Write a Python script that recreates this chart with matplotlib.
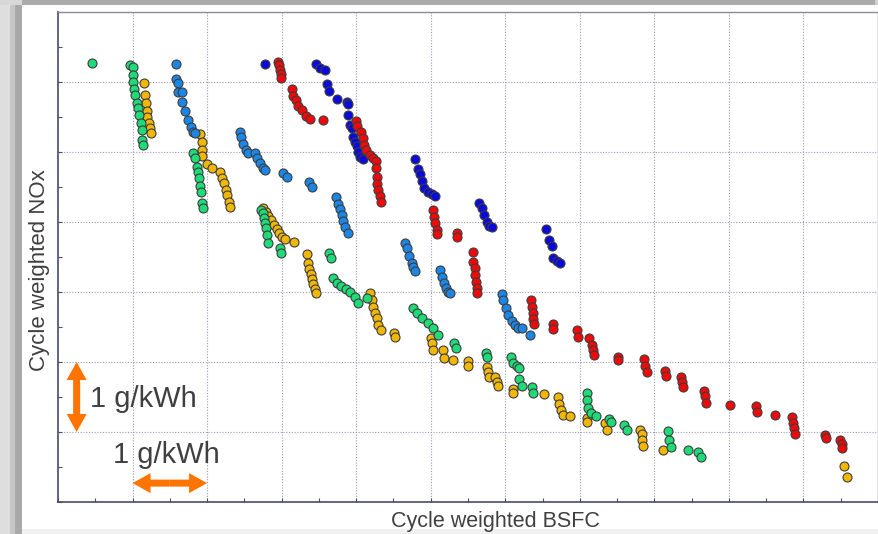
import matplotlib
matplotlib.use("Agg")
import matplotlib.pyplot as plt
from matplotlib.patches import Rectangle, FancyArrow

plt.rcParams['font.family'] = ['Liberation Sans', 'DejaVu Sans']

# ---- data (relative units, 1 grid step = 1 g/kWh) ----
green_x = [0.46, 0.97, 1.01, 1.01, 1.01, 1.02, 1.03, 1.06, 1.07, 1.09, 1.11, 1.13, 1.13, 1.14,
           1.81, 1.84, 1.86, 1.88, 1.89, 1.90, 1.92, 1.93, 1.95,
           2.72, 2.75, 2.76, 2.78, 2.79, 2.80, 2.82, 2.98, 2.99,
           3.64, 3.66, 3.69, 3.74, 3.80, 3.86, 3.92, 3.98, 4.02, 4.14,
           4.76, 4.82, 4.88, 4.96, 5.03, 5.10, 5.31, 5.34, 5.74, 5.75, 6.08, 6.10, 6.16, 6.18,
           6.18, 6.22, 6.36, 6.37,
           7.10, 7.10, 7.11, 7.15, 7.22, 7.39, 7.42, 7.59, 7.63, 8.18, 8.20, 8.22, 8.45, 8.58, 8.63]
green_y = [6.27, 6.24, 6.21, 6.10, 6.00, 5.90, 5.81, 5.70, 5.63, 5.53, 5.41, 5.31, 5.17, 5.10,
           4.99, 4.91, 4.79, 4.71, 4.63, 4.51, 4.43, 4.27, 4.20,
           4.17, 4.13, 4.06, 3.99, 3.91, 3.81, 3.70, 3.63, 3.56,
           3.56, 3.49, 3.20, 3.13, 3.09, 3.04, 3.00, 2.93, 2.84, 2.91,
           2.77, 2.70, 2.63, 2.56, 2.49, 2.39, 2.27, 2.20, 2.13, 2.07, 2.07, 1.99, 1.94, 1.91,
           1.76, 1.66, 1.64, 1.56,
           1.56, 1.46, 1.34, 1.27, 1.23, 1.19, 1.14, 1.10, 1.03, 1.01, 0.89, 0.79, 0.74, 0.71, 0.64]

yellow_x = [1.15, 1.17, 1.18, 1.19, 1.19, 1.22, 1.23, 1.25,
            1.90, 1.93, 1.93, 1.93, 2.00, 2.07, 2.17, 2.20, 2.23, 2.25, 2.27, 2.29, 2.31,
            2.75, 2.79, 2.82, 2.86, 2.90, 2.94, 2.96, 3.00, 3.04, 3.17,
            3.34, 3.35, 3.37, 3.39, 3.41, 3.42, 3.45, 3.46,
            4.19, 4.21, 4.23, 4.25, 4.28, 4.29, 4.33, 4.51, 4.52,
            5.00, 5.02, 5.03, 5.16, 5.18, 5.30, 5.50, 5.50, 5.75, 5.77, 5.78, 5.86, 5.89, 5.90,
            6.10, 6.10, 6.52, 6.71, 6.72, 6.75, 6.77, 6.87, 7.10, 7.10,
            7.34, 7.36, 7.81, 7.83, 7.83, 7.85, 8.12, 10.54, 10.58]
yellow_y = [5.99, 5.81, 5.70, 5.59, 5.50, 5.41, 5.34, 5.27,
            5.26, 5.14, 5.03, 4.94, 4.83, 4.77, 4.71, 4.63, 4.56, 4.46, 4.39, 4.29, 4.21,
            4.20, 4.14, 4.09, 4.03, 3.96, 3.90, 3.84, 3.79, 3.76, 3.71,
            3.54, 3.41, 3.33, 3.26, 3.19, 3.11, 3.04, 2.99,
            2.99, 2.89, 2.79, 2.70, 2.63, 2.53, 2.46, 2.41, 2.36,
            2.34, 2.27, 2.17, 2.17, 2.06, 2.03, 2.01, 1.94, 1.93, 1.86, 1.79, 1.79, 1.71, 1.66,
            1.61, 1.56, 1.54, 1.50, 1.40, 1.31, 1.24, 1.23, 1.20, 1.14,
            1.13, 1.03, 1.03, 0.97, 0.89, 0.80, 0.74, 0.51, 0.36]

lightblue_x = [1.58, 1.58, 1.61, 1.61, 1.66, 1.66, 1.70, 1.74, 1.78, 1.81, 1.84,
               2.44, 2.45, 2.48, 2.52, 2.55, 2.64, 2.67, 2.71, 2.75, 2.78, 3.02, 3.07,
               3.37, 3.41,
               3.73, 3.76, 3.78, 3.81, 3.82, 3.85, 3.89,
               4.65, 4.68, 4.71, 4.75, 4.76, 4.79,
               5.12, 5.15, 5.18, 5.20, 5.23, 5.26,
               5.96, 5.97, 6.01, 6.04, 6.09, 6.13, 6.17, 6.22, 6.33]
lightblue_y = [6.26, 6.04, 5.99, 5.86, 5.86, 5.71, 5.59, 5.46, 5.36, 5.29, 5.27,
               5.29, 5.21, 5.11, 5.03, 4.99, 4.99, 4.91, 4.84, 4.77, 4.74, 4.70, 4.64,
               4.57, 4.50,
               4.36, 4.26, 4.19, 4.10, 4.01, 3.93, 3.84,
               3.70, 3.63, 3.51, 3.41, 3.36, 3.30,
               3.31, 3.21, 3.13, 3.06, 3.00, 2.99,
               2.97, 2.89, 2.77, 2.67, 2.59, 2.53, 2.49, 2.49, 2.39]

darkblue_x = [2.78, 3.46, 3.51, 3.58, 3.61, 3.64, 3.74, 3.88, 3.89, 3.89, 3.92, 3.94, 3.96,
              3.98, 4.01, 4.02, 4.05, 4.09,
              4.79, 4.83, 4.86, 4.88, 4.91, 4.96, 5.02, 5.06,
              5.65, 5.69, 5.71, 5.75, 5.78, 5.82,
              6.55, 6.59, 6.63, 6.64, 6.69, 6.73]
darkblue_y = [6.26, 6.26, 6.20, 6.17, 5.97, 5.87, 5.76, 5.71, 5.69, 5.53, 5.39, 5.34, 5.21,
              5.14, 5.09, 5.00, 4.93, 4.90,
              4.90, 4.76, 4.69, 4.59, 4.49, 4.43, 4.40, 4.37,
              4.27, 4.20, 4.10, 4.00, 3.94, 3.93,
              3.90, 3.74, 3.66, 3.49, 3.44, 3.41]

red_x = [2.95, 2.96, 2.98, 2.99, 2.99, 3.14, 3.15, 3.19, 3.22, 3.27, 3.33, 3.38, 3.55,
         4.00, 4.01, 4.06, 4.09, 4.10, 4.13, 4.19, 4.23, 4.27, 4.27, 4.28, 4.28, 4.29, 4.32, 4.33,
         5.03, 5.04, 5.06, 5.08, 5.08, 5.35, 5.35,
         5.57, 5.57, 5.59, 5.59, 5.61, 5.62, 5.62,
         6.34, 6.36, 6.37, 6.37, 6.39, 6.64, 6.64, 6.96, 6.98,
         7.12, 7.16, 7.18, 7.19, 7.51, 7.51, 7.86, 7.87, 7.90, 8.14, 8.16, 8.36, 8.37, 8.38,
         8.67, 8.68, 8.69, 9.01, 9.36, 9.38, 9.62, 9.85, 9.86, 9.87, 9.89,
         10.29, 10.30, 10.49, 10.52, 10.52]
red_y = [6.29, 6.24, 6.17, 6.11, 6.06, 5.90, 5.80, 5.74, 5.66, 5.60, 5.51, 5.47, 5.46,
         5.44, 5.37, 5.29, 5.20, 5.10, 5.03, 4.96, 4.91, 4.87, 4.77, 4.64, 4.54, 4.46, 4.37, 4.29,
         4.17, 4.07, 3.99, 3.89, 3.83, 3.84, 3.79,
         3.57, 3.43, 3.34, 3.24, 3.14, 3.06, 2.99,
         2.89, 2.79, 2.70, 2.61, 2.54, 2.54, 2.47, 2.46, 2.36,
         2.34, 2.24, 2.17, 2.10, 2.07, 2.03, 2.04, 1.94, 1.86, 1.87, 1.80, 1.79, 1.71, 1.64,
         1.59, 1.51, 1.41, 1.39, 1.37, 1.29, 1.24, 1.21, 1.13, 1.06, 0.97,
         0.96, 0.91, 0.89, 0.83, 0.77]

x_label = "Cycle weighted BSFC"
y_label = "Cycle weighted NOx"
scale_label = "1 g/kWh"

# ---- figure ----
W, H = 879, 534
fig = plt.figure(figsize=(W / 100, H / 100), dpi=100, facecolor='white')

def px_rect(x0, y0, w, h, color):
    fig.patches.append(Rectangle((x0 / W, 1 - (y0 + h) / H), w / W, h / H,
                                 transform=fig.transFigure, facecolor=color,
                                 edgecolor='none', zorder=-10))

# grey slide frame
px_rect(0, 0, 10, H, '#dedede')
px_rect(10, 0, 5, H, '#c6c6c6')
px_rect(15, 0, 7, H, '#a9a9a9')
px_rect(22, 0, 853, 5, '#ababab')
px_rect(875, 0, 4, 5, '#d0d0d0')
px_rect(0, 0, 22, 5, '#d8d8d8')
px_rect(22, 529, 857, 5, '#f1f1f1')

ax = fig.add_axes([58 / W, 1 - 502 / H, 820 / W, 490 / H])
ax.set_xlim(0, 11)
ax.set_ylim(0, 7)

edge = '#3c3c3c'
ms = 42
ax.scatter(yellow_x, yellow_y, s=ms, c='#F2B705', edgecolors=edge, linewidths=0.8, zorder=3)
ax.scatter(green_x, green_y, s=ms, c='#1EDB78', edgecolors=edge, linewidths=0.8, zorder=3)
ax.scatter(lightblue_x, lightblue_y, s=ms, c='#1C86E6', edgecolors=edge, linewidths=0.8, zorder=3)
ax.scatter(darkblue_x, darkblue_y, s=ms, c='#0A0ADC', edgecolors=edge, linewidths=0.8, zorder=3)
ax.scatter(red_x, red_y, s=ms, c='#EE0A0A', edgecolors=edge, linewidths=0.8, zorder=3)

# grid at integer steps, ticks every half step
ax.set_xticks([i * 0.5 for i in range(23)])
ax.set_yticks([i * 0.5 for i in range(15)])
ax.set_xticklabels([])
ax.set_yticklabels([])
spine_c = '#4a4a6a'
ax.tick_params(direction='in', length=3, width=0.8, color=spine_c, top=False, right=False)
for i in range(1, 11):
    ax.axvline(i, color='#9a9abf', lw=0.8, ls=(0, (1, 1.5)), zorder=1)
for j in range(1, 7):
    ax.axhline(j, color='#9a9abf', lw=0.8, ls=(0, (1, 1.5)), zorder=1)
for s in ['left', 'bottom']:
    ax.spines[s].set_color(spine_c)
    ax.spines[s].set_linewidth(1.2)
for s in ['top', 'right']:
    ax.spines[s].set_color('#8a8aa0')
    ax.spines[s].set_linewidth(1.0)

# scale arrows (double-headed, built from two half arrows)
orange = '#FF7300'
xpx, ypx = 820 / 11, 490 / 7   # pixels per data unit
shaft, hw, hl = 7, 20, 18      # pixel sizes
# vertical arrow: from 1 to 2 at x=0.25
for dy in (0.5, -0.5):
    ax.add_patch(FancyArrow(0.25, 1.5, 0, dy, width=shaft / xpx, head_width=hw / xpx,
                            head_length=hl / ypx, length_includes_head=True,
                            color=orange, lw=0, zorder=5))
# horizontal arrow: from 1 to 2 at y=0.27
for dx in (0.5, -0.5):
    ax.add_patch(FancyArrow(1.5, 0.27, dx, 0, width=shaft / ypx, head_width=hw / ypx,
                            head_length=hl / xpx, length_includes_head=True,
                            color=orange, lw=0, zorder=5))

ax.text(0.43, 1.357, scale_label, fontsize=21, color='#404040', ha='left', va='baseline', zorder=6)
ax.text(0.738, 0.557, scale_label, fontsize=21, color='#404040', ha='left', va='baseline', zorder=6)

fig.text(495 / W, 1 - 521 / H, x_label, fontsize=15.5, color='#404040', ha='center', va='center')
fig.text(40 / W, 1 - 270 / H, y_label, fontsize=16, color='#404040', ha='center', va='center',
         rotation=90)

fig.savefig('out.png', dpi=100, facecolor=fig.get_facecolor())
